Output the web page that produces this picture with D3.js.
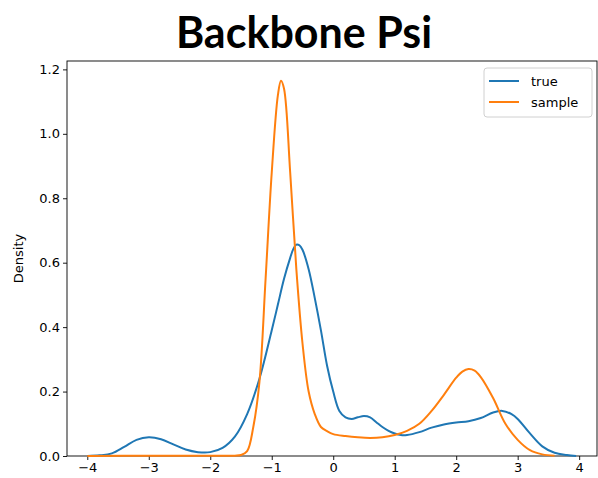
<!DOCTYPE html>
<html>
<head>
<meta charset="utf-8">
<script src="https://cdn.jsdelivr.net/npm/d3@7"></script>
<style>
  body { margin: 0; background: #fff; }
  text { font-family: "DejaVu Sans", sans-serif; }
</style>
</head>
<body>
<div class="canvas"></div>
<script>
// data
const trueX = [-4.0, -3.8, -3.6, -3.4, -3.2, -3.0, -2.8, -2.6, -2.4, -2.2, -2.0, -1.8, -1.6, -1.4, -1.2, -1.0, -0.9, -0.8, -0.7, -0.65, -0.6, -0.55, -0.5, -0.4, -0.3, -0.2, -0.1, 0.0, 0.1, 0.2, 0.3, 0.4, 0.5, 0.6, 0.7, 0.8, 0.9, 1.0, 1.1, 1.2, 1.4, 1.6, 1.8, 2.0, 2.2, 2.4, 2.6, 2.75, 2.9, 3.0, 3.2, 3.4, 3.6, 3.8, 3.95];
const trueY = [0.0, 0.002, 0.008, 0.028, 0.05, 0.058, 0.052, 0.036, 0.02, 0.012, 0.012, 0.025, 0.06, 0.13, 0.24, 0.39, 0.47, 0.55, 0.615, 0.642, 0.656, 0.654, 0.64, 0.58, 0.49, 0.39, 0.28, 0.2, 0.14, 0.12, 0.115, 0.12, 0.124, 0.12, 0.105, 0.09, 0.078, 0.07, 0.065, 0.065, 0.074, 0.088, 0.098, 0.104, 0.108, 0.118, 0.135, 0.14, 0.13, 0.115, 0.07, 0.03, 0.01, 0.003, 0.0];

const sampleX = [-4.0, -3.0, -2.0, -1.6, -1.5, -1.4, -1.3, -1.2, -1.1, -1.0, -0.9, -0.85, -0.8, -0.7, -0.6, -0.5, -0.4, -0.3, -0.2, -0.1, 0.0, 0.2, 0.4, 0.6, 0.8, 1.0, 1.2, 1.4, 1.6, 1.8, 2.0, 2.1, 2.2, 2.3, 2.4, 2.6, 2.8, 3.0, 3.2, 3.4, 3.6];
const sampleY = [0.0, 0.001, 0.001, 0.001, 0.003, 0.015, 0.09, 0.23, 0.55, 0.88, 1.12, 1.165, 1.14, 0.88, 0.58, 0.35, 0.2, 0.13, 0.09, 0.077, 0.068, 0.062, 0.058, 0.056, 0.058, 0.065, 0.078, 0.1, 0.14, 0.19, 0.243, 0.262, 0.27, 0.265, 0.245, 0.18, 0.1, 0.05, 0.018, 0.005, 0.001];

const seriesNames = ['true', 'sample'];
const colors = ['#1f77b4', '#ff7f0e'];
const xTicks = [-4, -3, -2, -1, 0, 1, 2, 3, 4];
const yTicks = [0.0, 0.2, 0.4, 0.6, 0.8, 1.0, 1.2];

const width = 598, height = 478;
const margin = { top: 61, right: 1, bottom: 22, left: 67 };

const svg = d3.select('.canvas')
    .append('svg')
    .attr('width', width)
    .attr('height', height);

const x = d3.scaleLinear().domain([-4.33, 4.29]).range([margin.left, width - margin.right]);
const y = d3.scaleLinear().domain([0, 1.226]).range([height - margin.bottom, margin.top]);

// title
svg.append('text')
    .attr('x', 304)
    .attr('y', 48)
    .attr('text-anchor', 'middle')
    .style('font-family', 'Lato, "Open Sans", sans-serif')
    .style('font-weight', 'bold')
    .style('font-size', '43px')
    .text('Backbone Psi');

// axes
const xAxis = svg.append('g')
    .attr('transform', `translate(0, ${height - margin.bottom})`)
    .call(d3.axisBottom(x).tickValues(xTicks).tickSize(4).tickPadding(3)
        .tickFormat(d => d < 0 ? '\u2212' + Math.abs(d) : d));

const yAxis = svg.append('g')
    .attr('transform', `translate(${margin.left}, 0)`)
    .call(d3.axisLeft(y).tickValues(yTicks).tickSize(4).tickPadding(3)
        .tickFormat(d3.format('.1f')));

[xAxis, yAxis].forEach(g => {
    g.select('.domain').remove();
    g.selectAll('text').style('font-size', '13px').attr('fill', '#000');
    g.selectAll('line').attr('stroke', '#000').attr('stroke-width', 0.9);
});

// frame
svg.append('rect')
    .attr('x', margin.left)
    .attr('y', margin.top)
    .attr('width', width - margin.right - margin.left)
    .attr('height', height - margin.bottom - margin.top)
    .attr('fill', 'none')
    .attr('stroke', '#000')
    .attr('stroke-width', 0.9);

svg.append('text')
    .attr('transform', `translate(23, ${(margin.top + height - margin.bottom) / 2}) rotate(-90)`)
    .attr('text-anchor', 'middle')
    .style('font-size', '13px')
    .text('Density');

// curves
const line = d3.line()
    .x(d => x(d[0]))
    .y(d => y(Math.max(0, d[1])))
    .curve(d3.curveCatmullRom.alpha(0.5));

const series = [
    d3.zip(trueX, trueY),
    d3.zip(sampleX, sampleY)
];

svg.append('g').selectAll('path')
    .data(series)
    .enter()
    .append('path')
    .attr('d', line)
    .attr('fill', 'none')
    .attr('stroke', (d, i) => colors[i])
    .attr('stroke-width', 2);

// legend
const legend = svg.append('g').attr('transform', 'translate(484, 68)');
legend.append('rect')
    .attr('width', 108)
    .attr('height', 49)
    .attr('rx', 3)
    .attr('fill', '#fff')
    .attr('fill-opacity', 0.8)
    .attr('stroke', '#d0d0d0');

seriesNames.forEach((name, i) => {
    const ly = 13 + i * 21;
    legend.append('line')
        .attr('x1', 5).attr('x2', 35)
        .attr('y1', ly).attr('y2', ly)
        .attr('stroke', colors[i])
        .attr('stroke-width', 2);
    legend.append('text')
        .attr('x', 47)
        .attr('y', ly + 5)
        .style('font-size', '13px')
        .text(name);
});
</script>
</body>
</html>
